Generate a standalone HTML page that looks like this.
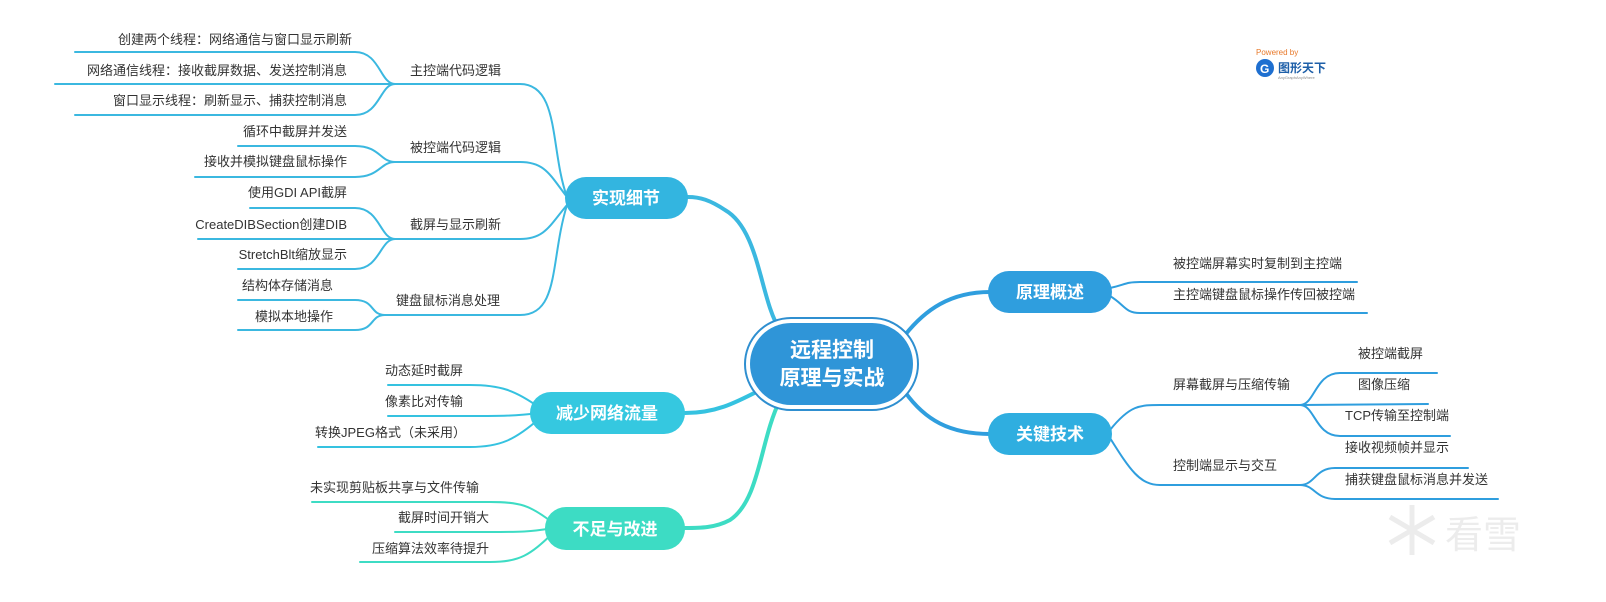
<!DOCTYPE html>
<html><head><meta charset="utf-8"><style>
html,body{margin:0;padding:0;background:#fff;width:1606px;height:602px;overflow:hidden}
svg text{font-family:"Liberation Sans","Noto Sans CJK SC",sans-serif}
</style></head><body>
<svg width="1606" height="602" viewBox="0 0 1606 602" xmlns="http://www.w3.org/2000/svg">
<g fill="none" stroke-linecap="round">
<path d="M780 330 C760 300 760 230 725 210 C710 200 700 197 688 197" stroke="#3bb8e0" stroke-width="4"/>
<path d="M770 385 C740 400 720 413 685 413" stroke="#35c2e0" stroke-width="4"/>
<path d="M780 400 C760 440 760 500 730 520 C715 528 700 528 685 528" stroke="#3ddcc4" stroke-width="4"/>
<path d="M905 335 C925 310 950 292 990 292" stroke="#2f9ede" stroke-width="4"/>
<path d="M905 392 C925 420 950 434 990 434" stroke="#2f9ede" stroke-width="4"/>
<g stroke="#3bb8e0" stroke-width="2">
<path d="M567 197 C550 150 560 84 520 84 L395 84"/>
<path d="M567 197 C550 175 545 162 520 162 L395 162"/>
<path d="M567 205 C550 225 545 239 520 239 L395 239"/>
<path d="M567 205 C550 260 560 315 520 315 L385 315"/>
<path d="M395 84 C380 84 380 52 355 52 L75 52"/>
<path d="M395 84 L55 84"/>
<path d="M395 84 C380 84 380 115 355 115 L75 115"/>
<path d="M395 162 C380 162 380 146 355 146 L238 146"/>
<path d="M395 162 C380 162 380 177 355 177 L195 177"/>
<path d="M395 239 C380 239 380 208 355 208 L250 208"/>
<path d="M395 239 L198 239"/>
<path d="M395 239 C380 239 380 269 355 269 L238 269"/>
<path d="M385 315 C370 315 375 300 355 300 L238 300"/>
<path d="M385 315 C370 315 375 330 355 330 L238 330"/>
</g>
<g stroke="#35c2e0" stroke-width="2">
<path d="M540 408 C515 390 500 385 470 385 L388 385"/>
<path d="M540 413 C515 416 500 416 470 416 L388 416"/>
<path d="M540 418 C515 440 500 447 470 447 L318 447"/>
</g>
<g stroke="#3ddcc4" stroke-width="2">
<path d="M553 523 C530 505 520 502 490 502 L312 502"/>
<path d="M553 528 C530 532 520 532 490 532 L395 532"/>
<path d="M553 533 C530 555 520 562 490 562 L360 562"/>
</g>
<g stroke="#2f9ede" stroke-width="2">
<path d="M1110 288 C1125 285 1125 282 1140 282 L1357 282"/>
<path d="M1110 296 C1125 305 1125 313 1140 313 L1367 313"/>
<path d="M1110 430 C1130 405 1140 405 1160 405 L1300 405"/>
<path d="M1110 438 C1130 470 1140 485 1160 485 L1300 485"/>
<path d="M1300 405 C1315 405 1315 373 1340 373 L1437 373"/>
<path d="M1300 405 L1428 404"/>
<path d="M1300 405 C1315 405 1315 436 1340 436 L1450 436"/>
<path d="M1300 485 C1315 485 1315 468 1335 468 L1468 468"/>
<path d="M1300 485 C1315 485 1315 499 1335 499 L1498 499"/>
</g>
</g>
<rect x="745" y="318" width="173" height="92" rx="46" fill="#fff" stroke="#2f8fd0" stroke-width="2"/>
<rect x="750" y="323" width="163" height="82" rx="41" fill="#2f95d8"/>
<text x="832" y="357" font-size="21" font-weight="bold" fill="#fff" text-anchor="middle">远程控制</text>
<text x="832" y="385" font-size="21" font-weight="bold" fill="#fff" text-anchor="middle">原理与实战</text>
<rect x="565" y="177" width="123" height="42" rx="21" fill="#33b5e0"/>
<text x="626" y="204" font-size="17" font-weight="bold" fill="#fff" text-anchor="middle">实现细节</text>
<rect x="530" y="392" width="155" height="42" rx="21" fill="#35c8e0"/>
<text x="607" y="419" font-size="17" font-weight="bold" fill="#fff" text-anchor="middle">减少网络流量</text>
<rect x="545" y="507" width="140" height="43" rx="21" fill="#3ddcc4"/>
<text x="615" y="535" font-size="17" font-weight="bold" fill="#fff" text-anchor="middle">不足与改进</text>
<rect x="988" y="271" width="124" height="42" rx="21" fill="#2f9ede"/>
<text x="1050" y="298" font-size="17" font-weight="bold" fill="#fff" text-anchor="middle">原理概述</text>
<rect x="988" y="413" width="124" height="42" rx="21" fill="#2faee0"/>
<text x="1050" y="440" font-size="17" font-weight="bold" fill="#fff" text-anchor="middle">关键技术</text>
<g font-size="13" fill="#333">
<text x="410" y="75">主控端代码逻辑</text>
<text x="410" y="152">被控端代码逻辑</text>
<text x="410" y="229">截屏与显示刷新</text>
<text x="396" y="305">键盘鼠标消息处理</text>
<g text-anchor="end">
<text x="352" y="44">创建两个线程：网络通信与窗口显示刷新</text>
<text x="347" y="75">网络通信线程：接收截屏数据、发送控制消息</text>
<text x="347" y="105">窗口显示线程：刷新显示、捕获控制消息</text>
<text x="347" y="136">循环中截屏并发送</text>
<text x="347" y="166">接收并模拟键盘鼠标操作</text>
<text x="347" y="197">使用GDI API截屏</text>
<text x="347" y="229">CreateDIBSection创建DIB</text>
<text x="347" y="259">StretchBlt缩放显示</text>
<text x="333" y="290">结构体存储消息</text>
<text x="333" y="321">模拟本地操作</text>
</g>
<text x="385" y="375">动态延时截屏</text>
<text x="385" y="406">像素比对传输</text>
<text x="315" y="437">转换JPEG格式（未采用）</text>
<text x="310" y="492">未实现剪贴板共享与文件传输</text>
<text x="398" y="522">截屏时间开销大</text>
<text x="372" y="553">压缩算法效率待提升</text>
<text x="1173" y="268">被控端屏幕实时复制到主控端</text>
<text x="1173" y="299">主控端键盘鼠标操作传回被控端</text>
<text x="1173" y="389">屏幕截屏与压缩传输</text>
<text x="1173" y="470">控制端显示与交互</text>
<text x="1358" y="358">被控端截屏</text>
<text x="1358" y="389">图像压缩</text>
<text x="1345" y="420">TCP传输至控制端</text>
<text x="1345" y="452">接收视频帧并显示</text>
<text x="1345" y="484">捕获键盘鼠标消息并发送</text>
</g>
<text x="1256" y="55" font-size="8" fill="#e8792a">Powered by</text>
<circle cx="1265" cy="68" r="9" fill="#1e6fd0"/>
<text x="1260" y="73" font-size="12" font-weight="bold" fill="#fff">G</text>
<text x="1278" y="72" font-size="12" font-weight="bold" fill="#1e5fa8">图形天下</text>
<text x="1278" y="79" font-size="4" fill="#888">AnyGraphAnyWhere</text>
<g stroke="#ececec" stroke-width="5" fill="none">
<path d="M1412 505 L1412 555 M1390 517 L1434 543 M1390 543 L1434 517"/>
</g>
<text x="1445" y="548" font-size="38" fill="#ececec">看雪</text>
</svg>
</body></html>
